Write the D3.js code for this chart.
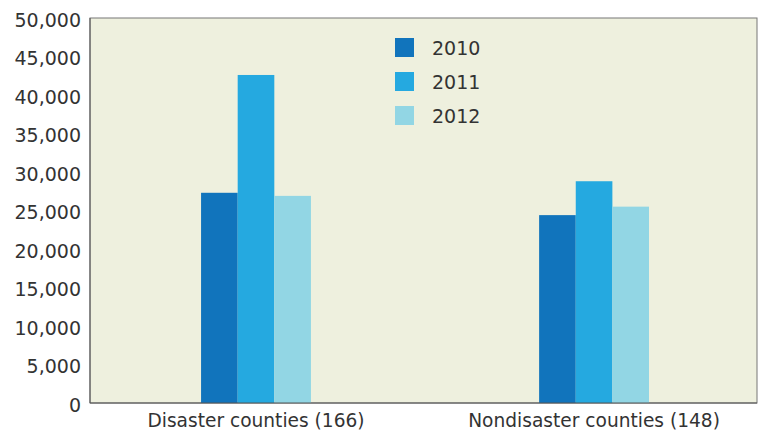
<!DOCTYPE html>
<html>
<head>
<meta charset="utf-8">
<script src="https://cdn.jsdelivr.net/npm/d3@7"></script>
<style>
  body { margin: 0; background: #fff; }
  text { font-family: "DejaVu Sans", sans-serif; fill: #333; }
</style>
</head>
<body>
<svg id="chart"></svg>
<script>
const categories = ['Disaster counties (166)', 'Nondisaster counties (148)'];
const years = ['2010', '2011', '2012'];
const values2010 = [27300, 24400];
const values2011 = [42600, 28800];
const values2012 = [26900, 25500];
const yticks = [0, 5000, 10000, 15000, 20000, 25000, 30000, 35000, 40000, 45000, 50000];
const colors = ['#1174bc', '#25a9e0', '#92d6e4'];

const series = [values2010, values2011, values2012];
const data = categories.map((c, i) => ({
    category: c,
    values: years.map((y, j) => ({ year: y, value: series[j][i] }))
}));

const width = 763, height = 432;
const margin = { top: 18, right: 6, bottom: 29, left: 90 };

const svg = d3.select('#chart')
    .attr('width', width)
    .attr('height', height);

const inner_width = width - margin.left - margin.right;
const inner_height = height - margin.top - margin.bottom;

const chart = svg.append('g')
    .attr('transform', `translate(${margin.left}, ${margin.top})`);

chart.append('rect')
    .attr('width', inner_width)
    .attr('height', inner_height)
    .attr('fill', '#eef0de')
    .attr('stroke', '#777')
    .attr('stroke-width', 1);

const xscale = d3.scaleBand()
    .domain(categories)
    .range([0, inner_width])
    .paddingInner(0.675)
    .paddingOuter(0.324)
    .align(0.507);

const x1 = d3.scaleBand()
    .domain(years)
    .range([0, xscale.bandwidth()])
    .padding(0);

const yscale = d3.scaleLinear()
    .domain([0, 50000])
    .range([inner_height, 0]);

const groups = chart.selectAll('.group')
    .data(data)
    .enter()
    .append('g')
    .attr('transform', d => `translate(${xscale(d.category)}, 0)`);

groups.selectAll('rect')
    .data(d => d.values)
    .enter()
    .append('rect')
    .attr('x', d => x1(d.year))
    .attr('y', d => yscale(d.value))
    .attr('width', x1.bandwidth())
    .attr('height', d => inner_height - yscale(d.value))
    .attr('fill', (d, i) => colors[i]);

// left and bottom lines a bit darker
chart.append('line')
    .attr('x1', 0).attr('x2', 0)
    .attr('y1', 0).attr('y2', inner_height)
    .attr('stroke', '#555');
chart.append('line')
    .attr('x1', 0).attr('x2', inner_width)
    .attr('y1', inner_height).attr('y2', inner_height)
    .attr('stroke', '#555');

const yaxis = d3.axisLeft(yscale)
    .tickValues(yticks)
    .tickSize(0)
    .tickPadding(9)
    .tickFormat(d3.format(','));

const yaxis_group = chart.append('g').call(yaxis);
yaxis_group.select('.domain').remove();
yaxis_group.selectAll('text')
    .attr('font-size', 19)
    .attr('font-family', null)
    .attr('y', 2)
    .style('fill', '#333');

const xaxis = d3.axisBottom(xscale)
    .tickSize(0)
    .tickPadding(11);

const xaxis_group = chart.append('g')
    .attr('transform', `translate(0, ${inner_height})`)
    .call(xaxis);
xaxis_group.select('.domain').remove();
xaxis_group.selectAll('text')
    .attr('font-size', 18.6)
    .attr('font-family', null)
    .style('fill', '#333');

const legend = svg.append('g')
    .attr('transform', 'translate(395, 38)');

const items = legend.selectAll('g')
    .data(years)
    .enter()
    .append('g')
    .attr('transform', (d, i) => `translate(0, ${i * 34})`);

items.append('rect')
    .attr('width', 19)
    .attr('height', 19)
    .attr('fill', (d, i) => colors[i]);

items.append('text')
    .attr('x', 37)
    .attr('y', 17)
    .attr('font-size', 19)
    .text(d => d);
</script>
</body>
</html>
